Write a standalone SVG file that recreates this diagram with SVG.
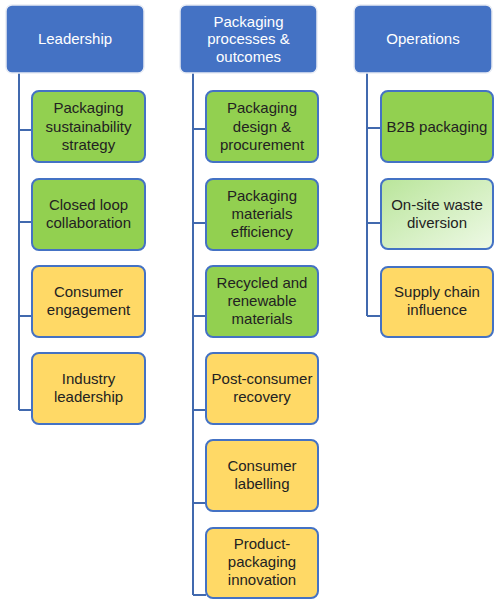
<svg xmlns="http://www.w3.org/2000/svg" width="500" height="605" viewBox="0 0 500 605">
<defs>
<linearGradient id="lg" x1="0" y1="0" x2="1" y2="1">
<stop offset="0" stop-color="#B9E59A"/>
<stop offset="1" stop-color="#EEF9E6"/>
</linearGradient>
<style>
.hdr{fill:#4472C4;stroke:#E8ECF4;stroke-width:1.5}
.g{fill:#92D050;stroke:#4472C4;stroke-width:2}
.y{fill:#FFD966;stroke:#4472C4;stroke-width:2}
.lg{fill:url(#lg);stroke:#4472C4;stroke-width:2}
.ht{font-family:"Liberation Sans",Arial,sans-serif;font-size:15px;fill:#FFFFFF;text-anchor:middle}
.t{font-family:"Liberation Sans",Arial,sans-serif;font-size:15px;fill:#222222;text-anchor:middle}
.c{fill:none;stroke:#4169AE;stroke-width:2}
</style>
</defs>
<rect width="500" height="605" fill="#FFFFFF"/>
<g id="connectors">
<path class="c" d="M19 73 V410 M19 130 H32 M19 222 H32 M19 316 H32 M19 410 H32"/>
<path class="c" d="M193 73 V595 M193 129 H206 M193 223 H206 M193 316 H206 M193 410 H206 M193 503 H206 M193 595 H206"/>
<path class="c" d="M367 73 V316 M367 128 H381 M367 223 H381 M367 316 H381"/>
</g>
<g id="leadership">
<rect class="hdr" x="6" y="5" width="138" height="68" rx="6"/>
<text class="ht" x="75" y="44">Leadership</text>
</g>
<g id="pkg-sustainability-strategy">
<rect class="g" x="32" y="91" width="113" height="71" rx="7"/>
<text class="t" x="88.5" y="113">Packaging</text>
<text class="t" x="88.5" y="132">sustainability</text>
<text class="t" x="88.5" y="150">strategy</text>
</g>
<g id="closed-loop">
<rect class="g" x="32" y="179" width="113" height="71" rx="7"/>
<text class="t" x="88.5" y="210">Closed loop</text>
<text class="t" x="88.5" y="228">collaboration</text>
</g>
<g id="consumer-engagement">
<rect class="y" x="32" y="266" width="113" height="71" rx="7"/>
<text class="t" x="88.5" y="297">Consumer</text>
<text class="t" x="88.5" y="315">engagement</text>
</g>
<g id="industry-leadership">
<rect class="y" x="32" y="353" width="113" height="71" rx="7"/>
<text class="t" x="88.5" y="384">Industry</text>
<text class="t" x="88.5" y="402">leadership</text>
</g>
<g id="packaging-processes">
<rect class="hdr" x="180" y="5" width="137" height="68" rx="6"/>
<text class="ht" x="248.5" y="27">Packaging</text>
<text class="ht" x="248.5" y="44">processes &amp;</text>
<text class="ht" x="248.5" y="62">outcomes</text>
</g>
<g id="design-procurement">
<rect class="g" x="206" y="91" width="112" height="71" rx="7"/>
<text class="t" x="262" y="113">Packaging</text>
<text class="t" x="262" y="132">design &amp;</text>
<text class="t" x="262" y="150">procurement</text>
</g>
<g id="materials-efficiency">
<rect class="g" x="206" y="179" width="112" height="71" rx="7"/>
<text class="t" x="262" y="201">Packaging</text>
<text class="t" x="262" y="219">materials</text>
<text class="t" x="262" y="237">efficiency</text>
</g>
<g id="recycled-renewable">
<rect class="g" x="206" y="266" width="112" height="71" rx="7"/>
<text class="t" x="262" y="288">Recycled and</text>
<text class="t" x="262" y="306">renewable</text>
<text class="t" x="262" y="324">materials</text>
</g>
<g id="post-consumer-recovery">
<rect class="y" x="206" y="353" width="112" height="71" rx="7"/>
<text class="t" x="262" y="384">Post-consumer</text>
<text class="t" x="262" y="402">recovery</text>
</g>
<g id="consumer-labelling">
<rect class="y" x="206" y="440" width="112" height="71" rx="7"/>
<text class="t" x="262" y="471">Consumer</text>
<text class="t" x="262" y="489">labelling</text>
</g>
<g id="product-packaging-innovation">
<rect class="y" x="206" y="528" width="112" height="70" rx="7"/>
<text class="t" x="262" y="549">Product-</text>
<text class="t" x="262" y="567">packaging</text>
<text class="t" x="262" y="585">innovation</text>
</g>
<g id="operations">
<rect class="hdr" x="354" y="5" width="138" height="68" rx="6"/>
<text class="ht" x="423" y="44">Operations</text>
</g>
<g id="b2b-packaging">
<rect class="g" x="381" y="91" width="112" height="71" rx="7"/>
<text class="t" x="437" y="132">B2B packaging</text>
</g>
<g id="onsite-waste">
<rect class="lg" x="381" y="179" width="112" height="70" rx="7"/>
<text class="t" x="437" y="210">On-site waste</text>
<text class="t" x="437" y="228">diversion</text>
</g>
<g id="supply-chain">
<rect class="y" x="381" y="267" width="112" height="70" rx="7"/>
<text class="t" x="437" y="297">Supply chain</text>
<text class="t" x="437" y="315">influence</text>
</g>
</svg>
